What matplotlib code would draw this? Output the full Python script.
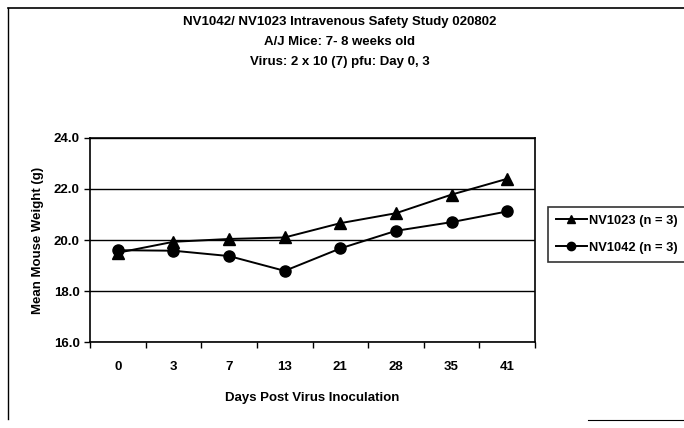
import numpy as np
import matplotlib
matplotlib.use('Agg')
from matplotlib import pyplot as plt
from matplotlib.lines import Line2D

plt.rcParams['font.family'] = ['Liberation Sans', 'DejaVu Sans']
plt.rcParams['font.weight'] = 'bold'

# data
days = ['0', '3', '7', '13', '21', '28', '35', '41']
nv1023 = [19.5, 19.93, 20.04, 20.1, 20.66, 21.05, 21.78, 22.4]
nv1042 = [19.6, 19.58, 19.37, 18.79, 19.67, 20.36, 20.7, 21.12]
series_names = ['NV1023 (n = 3)', 'NV1042 (n = 3)']
title_lines = ['NV1042/ NV1023 Intravenous Safety Study 020802',
               'A/J Mice: 7- 8 weeks old',
               'Virus: 2 x 10 (7) pfu: Day 0, 3']

fig = plt.figure(figsize=(6.84, 4.28), dpi=100)
ax = fig.add_axes([0.1316, 0.2009, 0.6506, 0.4767])

x = np.arange(len(days))
ax.plot(x, nv1023, color='black', lw=1.4, marker='^', ms=8, label=series_names[0])
ax.plot(x, nv1042, color='black', lw=1.4, marker='o', ms=8, label=series_names[1])

ax.set_xlim(-0.5, len(days) - 0.5)
ax.set_ylim(16, 24)
ax.set_yticks([16, 18, 20, 22, 24])
ax.set_yticklabels(['%.1f' % v for v in [16, 18, 20, 22, 24]], fontsize=9.5, fontweight='bold')
ax.yaxis.grid(True, color='black', lw=1)
ax.set_axisbelow(True)

# labels sit in the middle of each category, ticks on the boundaries
ax.set_xticks(x)
ax.set_xticklabels(days, fontsize=9.5, fontweight='bold')
ax.tick_params(axis='x', which='major', length=0, pad=14)
ax.set_xticks(np.arange(len(days) + 1) - 0.5, minor=True)
ax.tick_params(axis='x', which='minor', length=4, width=1, direction='out')
ax.tick_params(axis='y', length=4, width=1, direction='out')
for s in ax.spines.values():
    s.set_linewidth(1.2)

ax.set_xlabel('Days Post Virus Inoculation', fontsize=9.5, fontweight='bold', labelpad=13)
ax.set_ylabel('Mean Mouse Weight (g)', fontsize=9.5, fontweight='bold', labelpad=7)

for i, t in enumerate(title_lines):
    fig.text(0.497, 0.948 - i * 0.047, t, ha='center', va='center', fontsize=9.5, fontweight='bold')

leg = fig.legend(handles=[Line2D([], [], color='black', lw=1.4, marker='^', ms=6),
                          Line2D([], [], color='black', lw=1.4, marker='o', ms=6)],
                 labels=series_names, loc='upper left', bbox_to_anchor=(0.801, 0.516),
                 frameon=True, fancybox=False, edgecolor='black',
                 handlelength=2.4, handletextpad=0.2, borderpad=0.6, borderaxespad=0,
                 labelspacing=1.15, prop={'weight': 'bold', 'size': 9.3})
leg.get_frame().set_linewidth(1.2)

# outer chart border (left and top visible)
fig.add_artist(Line2D([0.011, 0.011], [0.02, 0.981], color='black', lw=1))
fig.add_artist(Line2D([0.011, 1.0], [0.981, 0.981], color='black', lw=1.2))
fig.add_artist(Line2D([0.86, 1.0], [0.018, 0.018], color='black', lw=0.8))

fig.savefig('out.png', dpi=100)
